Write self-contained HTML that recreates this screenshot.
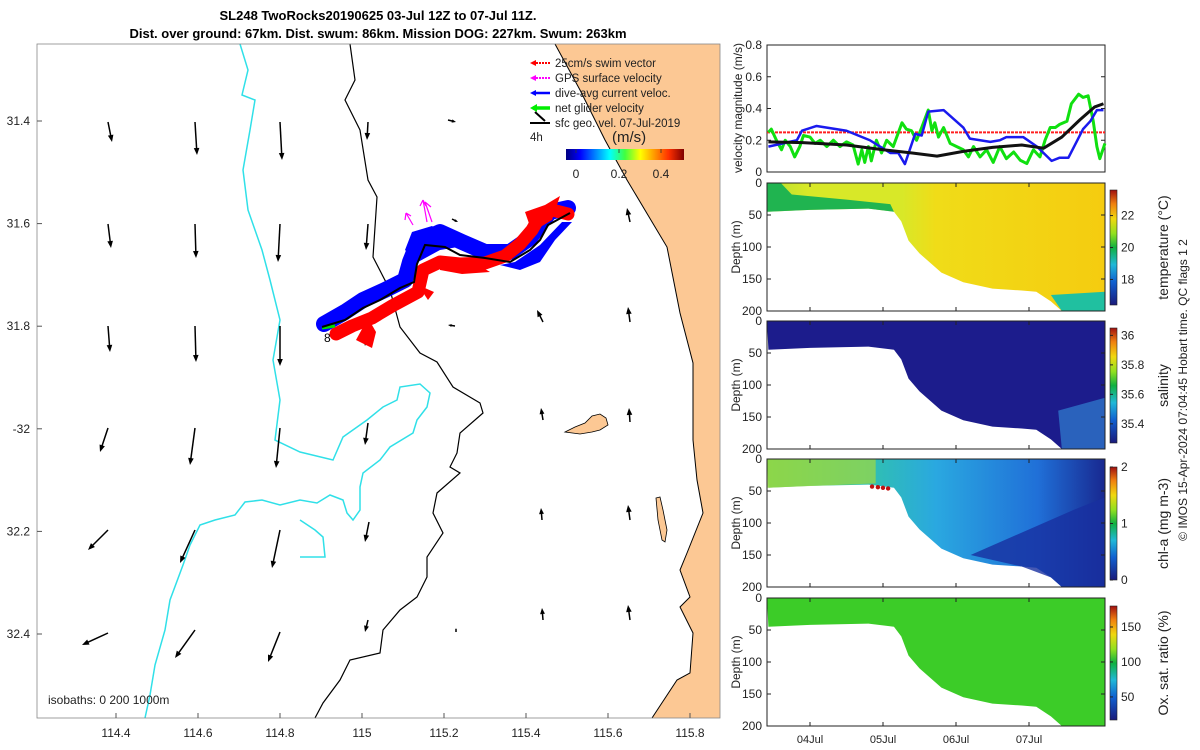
<!DOCTYPE html>
<html><head><meta charset="utf-8"><style>
body{margin:0;background:#fff}
svg{display:block;font-family:"Liberation Sans",sans-serif}
</style></head><body>
<svg id="s" width="1200" height="750" viewBox="0 0 1200 750" xmlns="http://www.w3.org/2000/svg">
<defs>
<linearGradient id="jet" x1="0" x2="1" y1="0" y2="0">
<stop offset="0" stop-color="#000080"/><stop offset=".12" stop-color="#0000ff"/><stop offset=".37" stop-color="#00ffff"/><stop offset=".5" stop-color="#40ff40"/><stop offset=".63" stop-color="#ffff00"/><stop offset=".87" stop-color="#ff3000"/><stop offset="1" stop-color="#800000"/>
</linearGradient>
<linearGradient id="cbar" x1="0" x2="0" y1="1" y2="0">
<stop offset="0" stop-color="#1a1a7a"/><stop offset=".2" stop-color="#1060d0"/><stop offset=".35" stop-color="#20b8d8"/><stop offset=".5" stop-color="#10b040"/><stop offset=".62" stop-color="#90e020"/><stop offset=".75" stop-color="#f0d810"/><stop offset=".88" stop-color="#f08010"/><stop offset="1" stop-color="#a01010"/>
</linearGradient>
<linearGradient id="tempG" x1="0" x2="1" y1="0" y2="0">
<stop offset="0" stop-color="#b8e030"/><stop offset=".12" stop-color="#d8e828"/><stop offset=".4" stop-color="#d8e828"/><stop offset=".5" stop-color="#f0dc18"/><stop offset="1" stop-color="#f5cc10"/>
</linearGradient>
<linearGradient id="chlG" x1="0" x2="1" y1="0" y2="0">
<stop offset="0" stop-color="#60d060"/><stop offset=".3" stop-color="#30c0b0"/><stop offset=".5" stop-color="#2aa8e0"/><stop offset=".8" stop-color="#2070d8"/><stop offset="1" stop-color="#182890"/>
</linearGradient>
</defs>
<text x="378" y="20" font-size="13" font-weight="bold" text-anchor="middle" fill="#000">SL248 TwoRocks20190625 03-Jul 12Z to 07-Jul 11Z.</text>
<text x="378" y="38" font-size="13" font-weight="bold" text-anchor="middle" fill="#000">Dist. over ground: 67km. Dist. swum: 86km. Mission DOG: 227km. Swum: 263km</text>

<g id="map">
<polygon fill="#fcc894" points="555,44 720,44 720,718 652,718 677,680 690,673 693,633 680,607 690,597 680,570 687,553 703,513 697,480 693,440 693,363 680,313 667,247 627,180 605,140 580,90"/>
<polyline fill="none" stroke="#000" stroke-width="1" points="555,44 580,90 605,140 627,180 667,247 680,313 693,363 693,440 697,480 703,513 687,553 680,570 690,597 680,607 693,633 690,673 677,680 652,718"/>
<path d="M565,432 L575,427 L585,423 L592,416 L600,414 L606,418 L608,425 L600,430 L592,432 L580,434 Z" fill="#fcc894" stroke="#000" stroke-width="0.8"/>
<path d="M656,498 L660,497 L663,510 L667,530 L665,542 L662,540 L658,520 Z" fill="#fcc894" stroke="#000" stroke-width="0.8"/>
<polyline fill="none" stroke="#000" stroke-width="1.2" points="350,44 355,80 345,100 360,130 368,180 377,197 373,257 390,290 400,327 420,353 437,362 453,387 480,403 483,413 460,433 457,453 450,467 460,473 437,493 433,513 443,533 427,557 427,577 417,597 400,610 383,630 380,653 350,660 340,680 323,703 315,718"/>
<polyline fill="none" stroke="#30e0e8" stroke-width="1.5" points="240,44 248,70 242,95 255,100 250,130 243,170 248,210 262,250 270,280 280,320 273,360 280,400 275,440 300,452 333,460 343,437 367,420 383,407 397,400 400,387 420,384 430,393 427,407 417,420 413,433 390,447 380,460 363,473 360,487 360,510 353,520 347,513 343,500 330,495 317,503 300,500 280,505 262,500 245,502 235,515 215,520 200,525 190,545 183,565 170,600 165,630 155,665 150,695 145,718"/>
<polyline fill="none" stroke="#30e0e8" stroke-width="1.5" points="300,520 315,530 323,537 325,557 300,557"/>
<g id="arrows" stroke="#000" stroke-width="1.5" fill="#000"></g>
<g id="track">
<polyline fill="none" stroke="#0000ff" stroke-width="16" stroke-linejoin="round" stroke-linecap="round" points="324,324 345,312 363,300 385,290 405,280 410,262 418,242 440,232 462,242 485,252 510,252 530,238 540,224 550,212 568,208"/>
<polygon fill="#0000ff" points="405,250 412,232 432,226 452,238 470,245 440,250 418,262"/>
<polygon fill="#0000ff" points="500,265 520,270 540,262 555,240 572,222 562,222 540,245 515,262"/>
<polyline fill="none" stroke="#ff0000" stroke-width="13" stroke-linejoin="round" stroke-linecap="round" points="336,334 352,326 372,318 392,306 418,292 423,270 440,262 460,264 485,263 505,256 520,244 532,230 540,216 552,210 568,214"/>
<polygon fill="#ff0000" points="356,340 368,318 376,332 372,348"/>
<polygon fill="#ff0000" points="418,285 434,292 428,300"/>
<polygon fill="#ff0000" points="440,256 470,260 490,272 462,274 440,270"/>
<polygon fill="#ff0000" points="525,212 545,205 560,196 552,220 532,232"/>
<polyline fill="none" stroke="#00dd00" stroke-width="3" points="322,328 335,326"/>
<polyline fill="none" stroke="#000" stroke-width="2" points="322,327 345,320 363,308 380,300 400,288 414,282 417,264 425,245 445,247 460,255 485,258 510,262 530,250 540,240 548,225 570,213"/>
<g stroke="#ff00ff" stroke-width="1.2" fill="none"><path d="M413,225 L406,213 M406,213 L405,220 M406,213 L411,216 M427,222 L423,200 M423,200 L420,206 M423,200 L426,206 M432,222 L425,202 M425,202 L431,207"/></g>
<text x="324" y="342" font-size="12" fill="#000">8</text>
</g>
<g font-size="11.5" fill="#222">
<line x1="533" y1="63" x2="550" y2="63" stroke="#ff0000" stroke-width="2" stroke-dasharray="2,1"/><polygon points="530,63 536,60 536,66" fill="#ff0000"/><text x="555" y="67">25cm/s swim vector</text>
<line x1="533" y1="78" x2="550" y2="78" stroke="#ff00ff" stroke-width="2" stroke-dasharray="2,1"/><polygon points="530,78 536,75 536,81" fill="#ff00ff"/><text x="555" y="82">GPS surface velocity</text>
<line x1="533" y1="93" x2="550" y2="93" stroke="#0000ff" stroke-width="2.5"/><polygon points="530,93 536,90 536,96" fill="#0000ff"/><text x="555" y="97">dive-avg current veloc.</text>
<line x1="533" y1="108" x2="550" y2="108" stroke="#00ee00" stroke-width="3.5"/><polygon points="530,108 537,104 537,112" fill="#00ee00"/><text x="555" y="112">net glider velocity</text>
<line x1="530" y1="123" x2="550" y2="123" stroke="#000" stroke-width="2"/><line x1="535" y1="112" x2="545" y2="121" stroke="#000" stroke-width="2"/><text x="555" y="127">sfc geo. vel. 07-Jul-2019</text>
<text x="530" y="141">4h</text>
<text x="612" y="142" font-size="15">(m/s)</text>
<rect x="566" y="149" width="118" height="11" fill="url(#jet)"/>
<g stroke="#333" stroke-width="0.8"><line x1="576" y1="149" x2="576" y2="153"/><line x1="619" y1="149" x2="619" y2="153"/><line x1="661" y1="149" x2="661" y2="153"/></g>
<text x="576" y="178" text-anchor="middle" font-size="12">0</text><text x="619" y="178" text-anchor="middle" font-size="12">0.2</text><text x="661" y="178" text-anchor="middle" font-size="12">0.4</text>
</g>
<text x="48" y="704" font-size="12" fill="#222">isobaths: 0   200  1000m</text>
<rect x="37" y="44" width="683" height="674" fill="none" stroke="#888" stroke-width="0.8"/>
<g id="mapticks" font-size="12" fill="#222"></g>
</g>

<g id="vel"></g>
<g id="sections"></g>
<text transform="translate(1187,390) rotate(-90)" font-size="12" text-anchor="middle" fill="#222">© IMOS 15-Apr-2024 07:04:45 Hobart time. QC flags 1  2</text>
</svg>
<script>
// ---- velocity data (days in July) ----
const blueDays=[3.43,3.82,3.89,4.09,4.50,4.82,5.10,5.21,5.30,5.44,5.53,5.62,5.83,6.10,6.19,6.47,6.60,6.69,6.92,7.11,7.31,7.42,7.54,7.74,7.84,7.93,8.02];
const blueVals=[.16,.2,.26,.29,.26,.2,.12,.12,.05,.24,.23,.38,.39,.28,.21,.19,.2,.22,.22,.16,.07,.09,.09,.27,.32,.39,.39];
const blackDays=[3.43,3.9,4.5,5.0,5.4,5.74,6.1,6.5,6.9,7.2,7.45,7.7,7.9,8.02];
const blackVals=[.19,.185,.17,.14,.12,.10,.13,.155,.17,.15,.22,.33,.41,.43];
const greenDays=[3.43,3.47,3.54,3.61,3.66,3.73,3.79,3.86,3.91,4.0,4.07,4.14,4.23,4.32,4.41,4.50,4.59,4.66,4.71,4.75,4.80,4.84,4.91,4.98,5.05,5.14,5.26,5.32,5.39,5.46,5.53,5.62,5.67,5.71,5.76,5.83,5.92,6.01,6.10,6.17,6.24,6.33,6.42,6.51,6.60,6.69,6.79,6.88,6.97,7.06,7.15,7.22,7.29,7.36,7.42,7.52,7.58,7.68,7.74,7.81,7.88,7.93,7.97,8.04];
const greenVals=[.25,.27,.2,.14,.2,.16,.095,.16,.23,.22,.18,.2,.16,.2,.16,.19,.17,.05,.14,.06,.16,.07,.2,.12,.2,.16,.31,.27,.26,.2,.28,.39,.26,.31,.22,.28,.18,.16,.14,.095,.16,.095,.14,.06,.16,.084,.126,.074,.053,.14,.095,.2,.28,.28,.3,.32,.43,.49,.47,.48,.32,.16,.084,.18];
const swimSpeed=0.25;
const velTicks=[0,0.2,0.4,0.6,0.8];
// ---- section data ----
const bottomDays=[3.43,4.0,4.8,5.15,5.25,5.35,5.5,5.8,6.1,6.5,6.9,7.1,7.3,7.45,8.04];
const bottomDepth=[45,42,40,45,60,90,110,140,155,165,168,170,185,200,200];
const depthTicks=[0,50,100,150,200];
const dayTicks=[4,5,6,7];
const dayLabels=['04Jul','05Jul','06Jul','07Jul'];
const tempTicks=[18,20,22];const salTicks=[35.4,35.6,35.8,36];const chlTicks=[0,1,2];const oxTicks=[50,100,150];
const mapXTicks=[114.4,114.6,114.8,115,115.2,115.4,115.6,115.8];
const mapYTicks=['31.4','31.6','31.8','-32','32.2','32.4'];
const mapYVals=[31.4,31.6,31.8,32,32.2,32.4];

const NS='http://www.w3.org/2000/svg';
function el(tag,attrs,parent,txt){const e=document.createElementNS(NS,tag);for(const k in attrs)e.setAttribute(k,attrs[k]);if(txt!==undefined)e.textContent=txt;parent.appendChild(e);return e;}
const X=d=>810+(d-4)*73;
const L=767,R=1105;

// map axes
const mx=v=>116+(v-114.4)*410, my=v=>121+(v-31.4)*513;
const mt=document.getElementById('mapticks');
mapXTicks.forEach(v=>{el('line',{x1:mx(v),x2:mx(v),y1:718,y2:713,stroke:'#555'},mt);
 const t=el('text',{x:mx(v),y:737,'text-anchor':'middle'},mt,String(v));
 });
mapYVals.forEach((v,i)=>{el('line',{x1:37,x2:42,y1:my(v),y2:my(v),stroke:'#555'},mt);
 const t=el('text',{x:30,y:my(v)+4,'text-anchor':'end'},mt,mapYTicks[i]);
 });

// map arrows [tailx,taily,headx,heady]
const arrowList=[[108,122,112,142],[195,122,197,155],[280,122,282,160],[368,122,367,140],[448,120,456,122],
[108,224,111,248],[195,224,196,258],[280,224,278,262],[368,224,366,250],[452,219,458,222],[630,222,627,208],
[108,326,110,352],[195,326,196,362],[280,326,280,366],[367,327,365,346],[455,326,448,325],[543,322,537,310],[630,322,628,307],
[108,428,100,452],[195,428,190,465],[280,428,276,468],[368,423,365,445],[543,420,541,408],[630,422,629,408],
[108,530,88,550],[195,530,180,563],[280,530,272,568],[369,522,365,542],[542,520,541,508],[630,520,628,505],
[108,633,82,645],[195,630,175,658],[280,632,268,662],[368,620,365,632],[456,632,456,628],[543,620,542,608],[630,620,628,605]];
const ag=document.getElementById('arrows');
arrowList.forEach(a=>{const [x1,y1,x2,y2]=a;const dx=x2-x1,dy=y2-y1,len=Math.hypot(dx,dy)||1,ux=dx/len,uy=dy/len,h=Math.min(7,len*0.5);
 const g=el('g',{},ag);
 
 
 el('line',{x1,y1,x2:x2-ux*h*0.6,y2:y2-uy*h*0.6},g);
 el('polygon',{points:`${x2},${y2} ${x2-ux*h-uy*h*0.4},${y2-uy*h+ux*h*0.4} ${x2-ux*h+uy*h*0.4},${y2-uy*h-ux*h*0.4}`,stroke:'none'},g);});

// velocity panel
const vg=document.getElementById('vel');
const VY=v=>172-v*158.75;
el('rect',{x:L,y:45,width:R-L,height:127,fill:'none',stroke:'#222','stroke-width':1},vg);
velTicks.forEach(v=>{el('line',{x1:L,x2:L+4,y1:VY(v),y2:VY(v),stroke:'#222'},vg);el('line',{x1:R,x2:R-4,y1:VY(v),y2:VY(v),stroke:'#222'},vg);
 const t=el('text',{x:762,y:VY(v)+4,'text-anchor':'end','font-size':12,fill:'#222'},vg,String(v));
 });
const vt=el('text',{transform:'translate(742,108) rotate(-90)','text-anchor':'middle','font-size':12,fill:'#222'},vg,'velocity magnitude (m/s)');

const sw=el('line',{x1:L,x2:R,y1:VY(swimSpeed),y2:VY(swimSpeed),stroke:'#ff2020','stroke-width':2,'stroke-dasharray':'3,1'},vg);

function line(days,vals,color,w,name){const p=el('polyline',{points:days.map((d,i)=>X(d)+','+VY(vals[i])).join(' '),fill:'none',stroke:color,'stroke-width':w,'stroke-linejoin':'round'},vg);
 }
line(greenDays,greenVals,'#10e010',3,'net-glider-velocity-line');
line(blueDays,blueVals,'#1a1aee',2.5,'dive-avg-current-line');
line(blackDays,blackVals,'#111',3,'sfc-geo-velocity-line');

// sections
const sg=document.getElementById('sections');
const panels=[{top:183,fill:'url(#tempG)',cb:[190,305],ticks:tempTicks,tmin:16.4,tmax:23.6,label:'temperature (°C)',name:'temperature'},
{top:321,fill:'#1c1c8c',cb:[328,443],ticks:salTicks,tmin:35.27,tmax:36.05,label:'salinity',name:'salinity'},
{top:459,fill:'url(#chlG)',cb:[467,580],ticks:chlTicks,tmin:0,tmax:2,label:'chl-a (mg m-3)',name:'chlorophyll'},
{top:598,fill:'#3ccc28',cb:[606,720],ticks:oxTicks,tmin:17,tmax:180,label:'Ox. sat. ratio (%)',name:'oxygen'}];
panels.forEach((p,pi)=>{
 const DY=d=>p.top+d*0.64;
 const g=el('g',{},sg);
 
 
 const pts=[L+','+DY(0),R+','+DY(0)];
 for(let i=bottomDays.length-1;i>=0;i--)pts.push(Math.min(R,X(bottomDays[i]))+','+DY(bottomDepth[i]));
 el('polygon',{points:pts.join(' '),fill:p.fill},g);
 if(pi===0){el('polygon',{points:[L+','+DY(0),X(3.6)+','+DY(0),X(3.75)+','+DY(18),X(4.5)+','+DY(26),X(5.1)+','+DY(33),X(5.15)+','+DY(45),X(4.8)+','+DY(40),X(4.0)+','+DY(42),L+','+DY(45)].join(' '),fill:'#20b450'},g);
  el('polygon',{points:[X(7.3)+','+DY(175),R+','+DY(170),R+','+DY(200),X(7.45)+','+DY(200)].join(' '),fill:'#20c0a0'},g);}
 if(pi===1){el('polygon',{points:[X(7.4)+','+DY(140),R+','+DY(120),R+','+DY(200),X(7.45)+','+DY(200)].join(' '),fill:'#3080d0',opacity:.7},g);}
 if(pi===2){el('polygon',{points:[L+','+DY(0),X(4.9)+','+DY(0),X(4.9)+','+DY(38),L+','+DY(45)].join(' '),fill:'#a0d840',opacity:.7},g);
  el('polygon',{points:[X(6.2)+','+DY(150),X(6.9)+','+DY(168),X(7.3)+','+DY(185),X(7.45)+','+DY(200),R+','+DY(200),R+','+DY(60),X(7.6)+','+DY(80)].join(' '),fill:'#1830a0',opacity:.8},g);
  [4.85,4.93,5.0,5.07].forEach((d,i)=>el('circle',{cx:X(d),cy:DY(43+i),r:2.2,fill:'#c01010'},g));}
 el('rect',{x:L,y:p.top,width:R-L,height:128,fill:'none',stroke:'#222'},g);
 depthTicks.forEach(v=>{el('line',{x1:L,x2:L+4,y1:DY(v),y2:DY(v),stroke:'#222'},g);el('line',{x1:R,x2:R-4,y1:DY(v),y2:DY(v),stroke:'#222'},g);
  const t=el('text',{x:762,y:DY(v)+4,'text-anchor':'end','font-size':12,fill:'#222'},g,String(v));
  });
 const dt=el('text',{transform:`translate(740,${p.top+64}) rotate(-90)`,'text-anchor':'middle','font-size':12,fill:'#222'},g,'Depth (m)');
 
 dayTicks.forEach(d=>{el('line',{x1:X(d),x2:X(d),y1:p.top+128,y2:p.top+124,stroke:'#222'},g);el('line',{x1:X(d),x2:X(d),y1:p.top,y2:p.top+4,stroke:'#222'},g);});
 const [c0,c1]=p.cb;
 const cb=el('rect',{x:1110,y:c0,width:7,height:c1-c0,fill:'url(#cbar)',stroke:'#222','stroke-width':.6},g);
 
 p.ticks.forEach(v=>{const y=c1-(v-p.tmin)/(p.tmax-p.tmin)*(c1-c0);
  el('line',{x1:1110,x2:1113,y1:y,y2:y,stroke:'#222'},g);
  const t=el('text',{x:1121,y:y+4,'font-size':12,fill:'#222'},g,String(v));
  });
 const ct=el('text',{transform:`translate(1168,${(c0+c1)/2}) rotate(-90)`,'text-anchor':'middle','font-size':14,fill:'#222'},g,p.label);
 
 if(pi===3){dayTicks.forEach((d,i)=>{const t=el('text',{x:X(d),y:743,'text-anchor':'middle','font-size':11,fill:'#222'},g,dayLabels[i]);
  });}
});
</script>
</body></html>
